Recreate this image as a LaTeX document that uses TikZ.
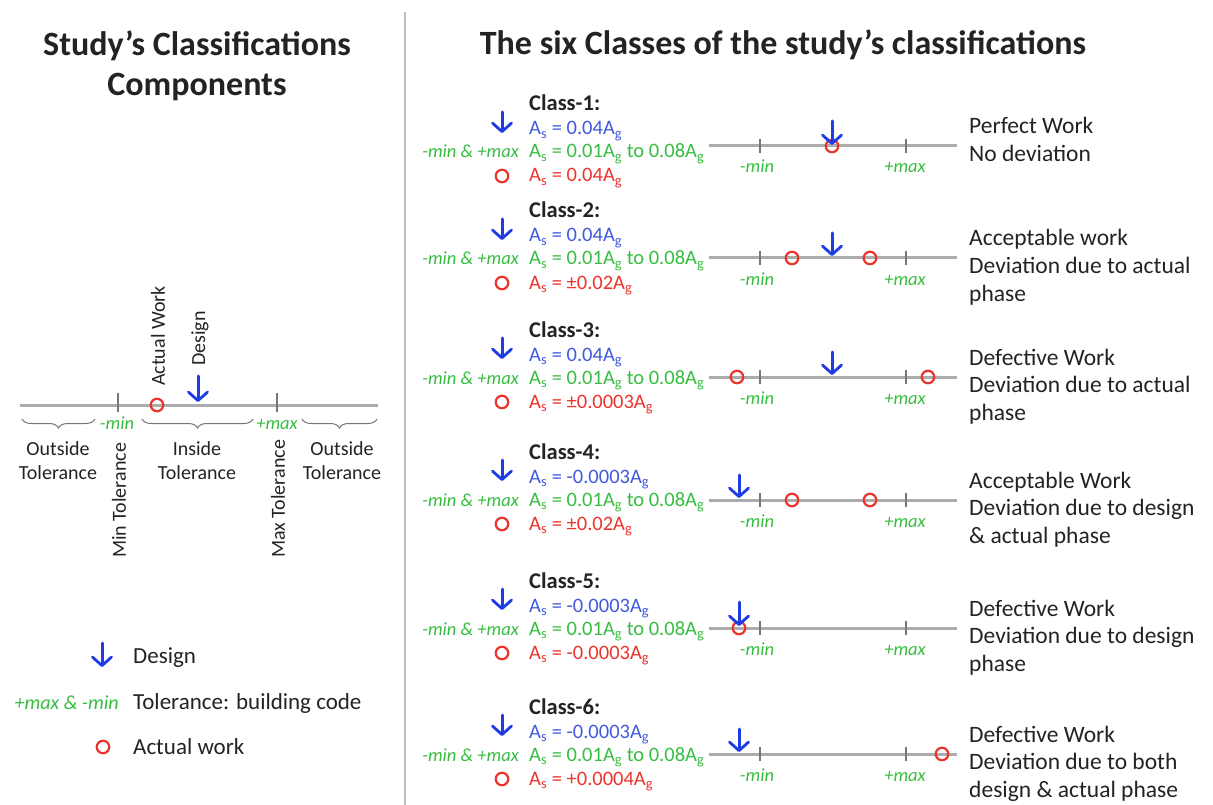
\documentclass[tikz,border=0pt]{standalone}
\usepackage{fontspec}
\setmainfont{Carlito}
\usetikzlibrary{arrows.meta,decorations.pathreplacing}

\definecolor{inkblack}{RGB}{35,35,35}
\definecolor{dsgnblue}{RGB}{30,60,228}
\definecolor{valblue}{RGB}{65,90,222}
\definecolor{tolgreen}{RGB}{55,190,65}
\definecolor{actred}{RGB}{234,52,44}
\definecolor{linegray}{RGB}{172,172,172}
\definecolor{tickgray}{RGB}{118,118,118}
\definecolor{divgray}{RGB}{190,190,190}

\newcommand{\Asx}{A\textsubscript{s}}
\newcommand{\Agx}{A\textsubscript{g}}

\tikzset{
  title/.style={font=\bfseries\fontsize{34}{40}\selectfont, text=inkblack, inner sep=0pt, align=center},
  hdr/.style={font=\bfseries\fontsize{22.5}{27}\selectfont, text=inkblack, inner sep=0pt, anchor=base west},
  val/.style={font=\fontsize{20.5}{24}\selectfont, inner sep=0pt, anchor=base west},
  tolkey/.style={font=\itshape\fontsize{18.5}{22}\selectfont, text=tolgreen, inner sep=0pt, anchor=base},
  desc/.style={font=\fontsize{23.5}{27.5}\selectfont, text=inkblack, inner sep=0pt, anchor=base west, align=left},
  legendtxt/.style={font=\fontsize{23}{27}\selectfont, text=inkblack, inner sep=0pt, anchor=base west},
  sidelbl/.style={font=\fontsize{20}{24}\selectfont, text=inkblack, inner sep=0pt, align=center},
  numline/.style={draw=linegray, line width=3pt},
  tickmark/.style={draw=tickgray, line width=2.4pt},
  actual/.style={circle, draw=actred, line width=2.2pt, minimum size=12.5pt, inner sep=0pt},
  dsgn/.style={draw=dsgnblue, line width=3pt, line cap=round,
    -{Straight Barb[length=8.5pt,width=19pt,line width=2.8pt,round]}},
  tolbrace/.style={draw=tickgray, line width=1pt, decorate, decoration={brace, mirror, amplitude=9pt}},
}

% One class: #1 id, #2 text row y, #3 number line y, #4 heading,
% #5 design value, #6 actual value, #7 baseline of the last description line,
% #8 description
\newcommand{\classrow}[8]{%
  \node[hdr] (hd#1) at (529,{#2-40}) {#4};
  \node[val, text=valblue] (dv#1) at (529,{#2-16}) {\Asx{} = #5};
  \node[val, text=tolgreen] (tv#1) at (529,{#2+7}) {\Asx{} = 0.01\Agx{} to 0.08\Agx};
  \node[val, text=actred] (av#1) at (529,{#2+31}) {\Asx{} = #6};
  \node[tolkey, anchor=base east] (tk#1) at (519,{#2+7}) {-min \& +max};
  \coordinate (dit#1) at (502,{#2-39});
  \coordinate (dib#1) at (502,{#2-18});
  \draw[dsgn] (dit#1) -- (dib#1);
  \node[actual] (ai#1) at (502,{#2+25}) {};
  \coordinate (ls#1) at (709,#3);
  \coordinate (le#1) at (957,#3);
  \draw[numline] (ls#1) -- (le#1);
  \coordinate (mn#1) at (760,#3);
  \coordinate (mx#1) at (906,#3);
  \draw[tickmark] ([yshift=7pt]mn#1) -- ([yshift=-7pt]mn#1);
  \draw[tickmark] ([yshift=7pt]mx#1) -- ([yshift=-7pt]mx#1);
  \node[tolkey] (mnl#1) at (757,{#3+27}) {-min};
  \node[tolkey] (mxl#1) at (905,{#3+27}) {+max};
  \node[desc] (ds#1) at (969,{#3+#7}) {#8};
}

\begin{document}
\begin{tikzpicture}[x=1pt,y=-1pt]
\useasboundingbox[fill=white] (0,0) rectangle (1213,805);

% divider between the two panels
\coordinate (divtop) at (405,12);
\coordinate (divbot) at (405,805);
\draw[divgray, line width=2pt] (divtop) -- (divbot);

% ---------- left panel ----------
\node[title] (ltitle) at (197,66) {Study’s Classifications\\Components};

\coordinate (lls) at (20,405);
\coordinate (lle) at (378,405);
\draw[numline] (lls) -- (lle);
\coordinate (lmin) at (118,405);
\coordinate (lmax) at (277,405);
\draw[tickmark] ([yshift=12pt]lmin) -- ([yshift=-7pt]lmin);
\draw[tickmark] ([yshift=12pt]lmax) -- ([yshift=-7pt]lmax);
\node[actual] (lact) at (157,405) {};
\coordinate (ldt) at (198,376);
\coordinate (ldb) at (198,402);
\draw[dsgn] (ldt) -- (ldb);

\node[sidelbl, rotate=90, anchor=west] (lactlbl) at (158,386) {Actual Work};
\node[sidelbl, rotate=90, anchor=west] (ldeslbl) at (200,366) {Design};

\node[tolkey] (lminlbl) at (117,429) {-min};
\node[tolkey] (lmaxlbl) at (277,429) {+max};

\draw[tolbrace] (22,419) -- (95,419);
\draw[tolbrace] (142,419) -- (253,419);
\draw[tolbrace] (302,419) -- (377,419);

\node[sidelbl] (lout1) at (58,461) {Outside\\Tolerance};
\node[sidelbl] (lin) at (197,461) {Inside\\Tolerance};
\node[sidelbl] (lout2) at (342,461) {Outside\\Tolerance};

\node[sidelbl, rotate=90, anchor=west] (lmintol) at (119,558) {Min Tolerance};
\node[sidelbl, rotate=90, anchor=west] (lmaxtol) at (278,558) {Max Tolerance};

% legend
\coordinate (kdt) at (102,643);
\coordinate (kdb) at (102,667);
\draw[dsgn] (kdt) -- (kdb);
\node[legendtxt] (kdes) at (133,663) {Design};
\node[tolkey, font=\itshape\fontsize{20}{24}\selectfont, anchor=base east] (ktolkey) at (119,709) {+max \& -min};
\node[legendtxt] (ktol) at (133,709) {Tolerance: building code};
\node[actual] (kact) at (103,747) {};
\node[legendtxt] (kactlbl) at (133,754) {Actual work};

% ---------- right panel ----------
\node[title] (rtitle) at (783,45) {The six Classes of the study’s classifications};

\classrow{1}{151}{146}{Class-1:}{0.04\Agx}{0.04\Agx}{15.5}{Perfect Work\\No deviation}
\classrow{2}{258}{258}{Class-2:}{0.04\Agx}{±0.02\Agx}{43}{Acceptable work\\Deviation due to actual\\phase}
\classrow{3}{377}{377}{Class-3:}{0.04\Agx}{±0.0003\Agx}{43}{Defective Work\\Deviation due to actual\\phase}
\classrow{4}{499}{500}{Class-4:}{-0.0003\Agx}{±0.02\Agx}{43}{Acceptable Work\\Deviation due to design\\\& actual phase}
\classrow{5}{628}{628}{Class-5:}{-0.0003\Agx}{-0.0003\Agx}{43}{Defective Work\\Deviation due to design\\phase}
\classrow{6}{754}{754}{Class-6:}{-0.0003\Agx}{+0.0004\Agx}{43}{Defective Work\\Deviation due to both\\design \& actual phase}

% markers on the class number lines
\node[actual] (a1) at (832,146) {};
\coordinate (d1t) at (832,121); \coordinate (d1b) at (832,145);
\draw[dsgn] (d1t) -- (d1b);

\node[actual] (a2l) at (792,258) {};
\node[actual] (a2r) at (870,258) {};
\coordinate (d2t) at (832,233); \coordinate (d2b) at (832,256);
\draw[dsgn] (d2t) -- (d2b);

\node[actual] (a3l) at (737,377) {};
\node[actual] (a3r) at (928,377) {};
\coordinate (d3t) at (832,352); \coordinate (d3b) at (832,375);
\draw[dsgn] (d3t) -- (d3b);

\node[actual] (a4l) at (792,500) {};
\node[actual] (a4r) at (870,500) {};
\coordinate (d4t) at (739,475); \coordinate (d4b) at (739,498);
\draw[dsgn] (d4t) -- (d4b);

\node[actual] (a5) at (739,628) {};
\coordinate (d5t) at (739,602); \coordinate (d5b) at (739,626);
\draw[dsgn] (d5t) -- (d5b);

\node[actual] (a6) at (942,754) {};
\coordinate (d6t) at (739,729); \coordinate (d6b) at (739,752);
\draw[dsgn] (d6t) -- (d6b);
\end{tikzpicture}
\end{document}
